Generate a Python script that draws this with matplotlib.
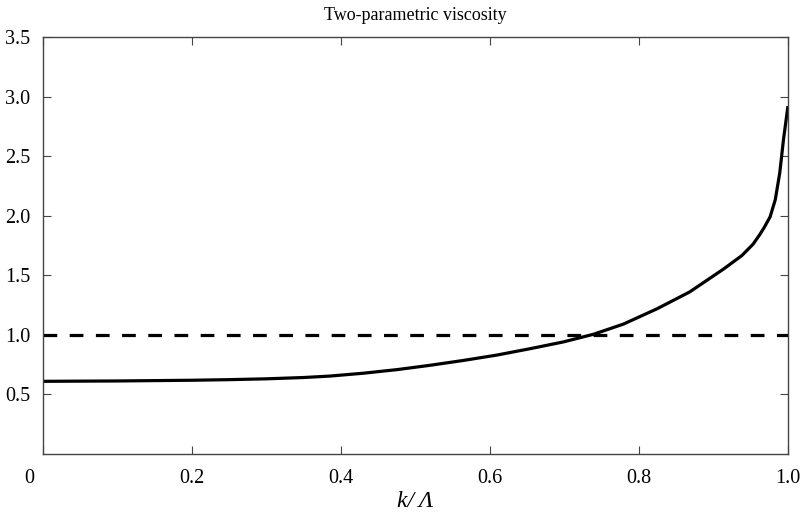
import matplotlib
matplotlib.use("Agg")
import matplotlib.pyplot as plt
import matplotlib.transforms as mtransforms

# values
k_over_lambda = [0.0, 0.1, 0.2, 0.25, 0.3, 0.35, 0.385, 0.43, 0.475, 0.519,
                 0.564, 0.609, 0.654, 0.698, 0.739, 0.779, 0.824, 0.868,
                 0.913, 0.938, 0.953, 0.962, 0.968, 0.976, 0.983, 0.989,
                 0.994, 1.0]
viscosity = [0.61, 0.613, 0.619, 0.624, 0.631, 0.642, 0.654, 0.678, 0.708,
             0.744, 0.785, 0.83, 0.884, 0.94, 1.005, 1.09, 1.218, 1.36,
             1.55, 1.665, 1.76, 1.84, 1.90, 1.99, 2.135, 2.36,
             2.64, 2.92]
reference_level = 1.0

x_ticks = [0, 0.2, 0.4, 0.6, 0.8, 1.0]
x_tick_labels = ["0", "0.2", "0.4", "0.6", "0.8", "1.0"]
y_ticks = [0.5, 1.0, 1.5, 2.0, 2.5, 3.0, 3.5]
y_tick_labels = ["0.5", "1.0", "1.5", "2.0", "2.5", "3.0", "3.5"]

plt.rcParams['font.family'] = ['Liberation Serif', 'DejaVu Serif']

fig = plt.figure(figsize=(8.02, 5.21), dpi=100)
ax = fig.add_axes([0.0536, 0.1286, 0.9289, 0.8004])

ax.plot(k_over_lambda, viscosity, color='black', lw=2.3,
        solid_joinstyle='round', solid_capstyle='butt')
ax.axhline(reference_level, color='black', lw=2.3, linestyle=(0, (4.3, 3.9)))

ax.set_xlim(0, 1)
ax.set_ylim(0, 3.5)
ax.set_xticks(x_ticks)
ax.set_xticklabels(x_tick_labels)
ax.set_yticks(y_ticks)
ax.set_yticklabels(y_tick_labels)

ax.tick_params(direction='in', length=6, width=0.8, color='#444444',
               top=True, right=True, labelsize=14.5, pad=9)
ax.tick_params(axis='x', pad=11)
for s in ax.spines.values():
    s.set_color('#444444')
    s.set_linewidth(1.0)

# origin label sits a little left of the axis, as in the original
lab0 = ax.get_xticklabels()[0]
lab0.set_transform(lab0.get_transform() +
                   mtransforms.ScaledTranslation(-14 / 100, 0, fig.dpi_scale_trans))

ax.set_xlabel('k/\u2009\u039b', fontsize=17, fontstyle='italic', labelpad=2)
ax.set_title('Two-parametric viscosity', fontsize=13, pad=12)

fig.savefig('out.png', dpi=100)
